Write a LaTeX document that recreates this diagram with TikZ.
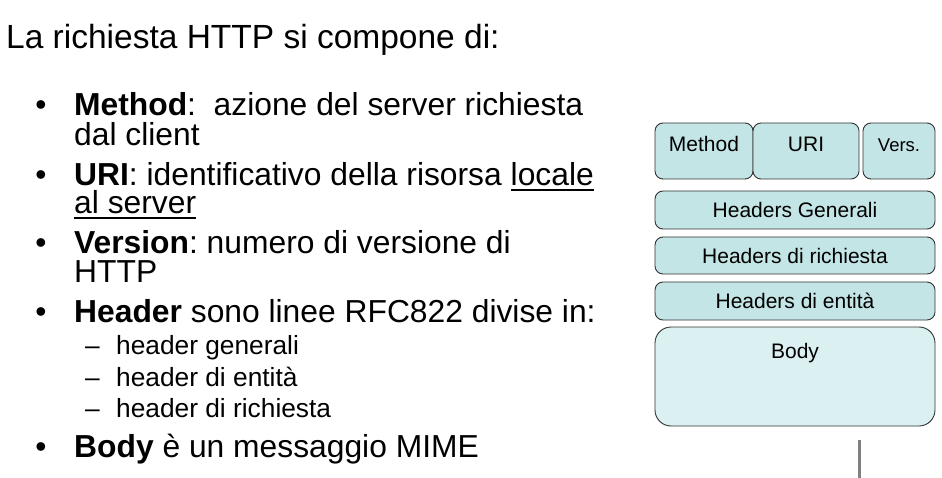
\documentclass[tikz,border=0pt]{standalone}
\usepackage{fontspec}
\setmainfont{Liberation Sans}
\definecolor{hdrfill}{HTML}{C4E5E6}
\definecolor{bodyfill}{HTML}{DBF0F1}
\definecolor{boxline}{HTML}{333333}
\definecolor{stubgray}{HTML}{808080}
\newcommand\undl[1]{\setbox0\hbox{#1}\rlap{\rule[-5pt]{\wd0}{2pt}}\box0}
\frenchspacing
\tikzset{
  line/.style={anchor=base west, inner sep=0pt, align=left, font=\fontsize{31.8}{29}\selectfont},
  subline/.style={anchor=base west, inner sep=0pt, font=\fontsize{26.3}{31}\selectfont},
  field/.style={draw=boxline, fill=hdrfill, rounded corners=8pt, inner sep=0pt,
                line width=0.9pt, font=\fontsize{21}{25}\selectfont},
}
\begin{document}
\begin{tikzpicture}[x=1pt, y=-1pt]
\useasboundingbox (0,0) rectangle (942,478);
% text on the left (multi-line nodes sit on their last baseline)
\node[line, font=\fontsize{33.5}{40}\selectfont] (title) at (6,49) {La richiesta HTTP si compone di:};
\node[line, anchor=base] (dot1) at (41,116) {\textbullet};
\node[line] (method) at (74,146) {\textbf{Method}:~ azione del server richiesta\\[1pt] dal client};
\node[line, anchor=base] (dot2) at (41,186) {\textbullet};
\node[line] (uri) at (74,214) {\textbf{URI}: identificativo della risorsa \undl{locale}\\[-1pt] \undl{al server}};
\node[line, anchor=base] (dot3) at (41,254) {\textbullet};
\node[line] (version) at (74,283) {\textbf{Version}: numero di versione di\\ HTTP};
\node[line, anchor=base] (dot4) at (41,322) {\textbullet};
\node[line] (header) at (74,322) {\textbf{Header} sono linee RFC822 divise in:};
\node[subline] (dash1) at (85,354) {--};
\node[subline] (hgen) at (116,354) {header generali};
\node[subline] (dash2) at (85,386) {--};
\node[subline] (hent) at (116,386) {header di entità};
\node[subline] (dash3) at (85,417) {--};
\node[subline] (hric) at (116,417) {header di richiesta};
\node[line, anchor=base] (dot5) at (41,457) {\textbullet};
\node[line] (body) at (74,457) {\textbf{Body} è un messaggio MIME};
% request layout on the right
\node[field, minimum width=98pt, minimum height=56pt, text height=15pt, text depth=13pt] (fmethod) at (704,151) {Method};
\node[field, minimum width=106pt, minimum height=56pt, text height=15pt, text depth=13pt] (furi) at (806,151) {URI};
\node[field, minimum width=72pt, minimum height=56pt, text height=13pt, text depth=11pt, font=\fontsize{18.5}{22}\selectfont] (fvers) at (899,151) {Vers.};
\node[field, minimum width=280pt, minimum height=38pt] (fgen) at (795,210) {Headers Generali};
\node[field, minimum width=280pt, minimum height=37pt] (fric) at (795,255.5) {Headers di richiesta};
\node[field, minimum width=280pt, minimum height=38pt] (fent) at (795,301) {Headers di entità};
\node[field, fill=bodyfill, rounded corners=16pt, minimum width=280pt, minimum height=99pt, text height=15pt, text depth=52pt] (fbody) at (795,376.5) {Body};
\coordinate (stubtop) at (859,440);
\coordinate (stubend) at (859,478);
\draw[stubgray, line width=3pt] (stubtop) -- (stubend);
\end{tikzpicture}
\end{document}
